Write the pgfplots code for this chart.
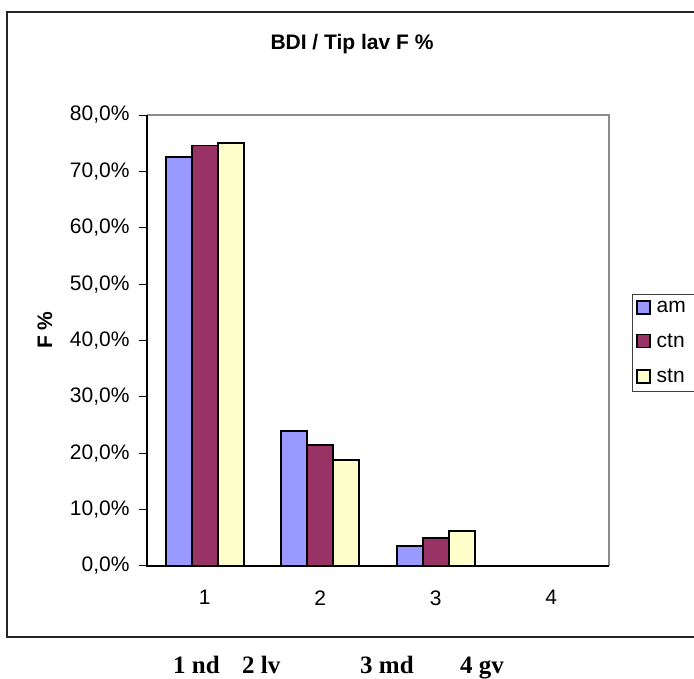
\documentclass[border=0pt]{standalone}
\usepackage{pgfplots}
\pgfplotsset{compat=1.18}
\usepackage{fontspec}
\setmainfont{Liberation Sans}
\newfontfamily\notefont{Liberation Serif}
\definecolor{amc}{HTML}{9999FF}
\definecolor{ctnc}{HTML}{993366}
\definecolor{stnc}{HTML}{FFFFCC}
\newcommand\chartfont{\fontsize{21}{25}\selectfont}
\begin{document}
\begin{tikzpicture}[x=1pt,y=1pt,font=\chartfont]
\useasboundingbox (0,0) rectangle (694,678);
% chart frame (right side runs off the page)
\draw[black!85, line width=1.5pt] (700,666) -- (7,666) -- (7,41) -- (700,41);
% title and axis label
\node[font=\chartfont\bfseries] at (352,634) {BDI / Tip lav F \%};
\node[font=\chartfont\bfseries, rotate=90] at (45,348) {F \%};
\begin{axis}[
  at={(147pt,112pt)}, anchor=south west,
  scale only axis, width=462pt, height=451pt,
  clip=false,
  xmin=0.5, xmax=4.5, ymin=0, ymax=80,
  axis line style={draw=none},
  ybar=0pt, bar width=26pt,
  xtick={1,2,3,4}, xticklabels={1,2,3,4},
  minor xtick={0.5,1.5,2.5,3.5,4.5},
  ytick={0,10,...,80},
  tick align=outside, tick pos=left,
  major tick length=8pt, minor tick length=8pt,
  xtick style={draw=none},
  minor x tick style={black, line width=1pt},
  ytick style={black, line width=1pt},
  /pgf/number format/assume math mode=true,
  yticklabel={\pgfmathprintnumber[fixed,fixed zerofill,precision=1,use comma]{\tick}\%},
  ticklabel style={font=\chartfont},
  yticklabel style={xshift=-6pt},
  xticklabel style={yshift=-13pt},
  legend style={at={(1.0498,0.604)}, anchor=north west,
    draw=black!75, line width=0.8pt, font=\chartfont,
    row sep=16pt, inner xsep=4pt, inner ysep=5pt,
    /tikz/every odd column/.append style={column sep=4pt},
    nodes={inner xsep=2pt}},
  legend cell align=left,
  legend image code/.code={\draw[#1, line width=1.3pt] (0pt,-6.5pt) rectangle (13pt,6.5pt);},
]
\addplot[fill=amc, draw=black, line width=1.6pt] coordinates {(1,72.6) (2,23.9) (3,3.5) (4,0)};
\addplot[fill=ctnc, draw=black, line width=1.6pt] coordinates {(1,74.6) (2,21.5) (3,5.0) (4,0)};
\addplot[fill=stnc, draw=black, line width=1.6pt] coordinates {(1,75.0) (2,18.8) (3,6.2) (4,0)};
\legend{am\hspace*{30pt},ctn,stn}
% plot area border: gray top and right, black axes on left and bottom
\draw[black!45, line width=1.5pt] (rel axis cs:0,1) -- (rel axis cs:1,1) -- (rel axis cs:1,0);
\draw[black, line width=1.5pt] (rel axis cs:0,1) -- (rel axis cs:0,0) -- (rel axis cs:1,0);
\end{axis}
% category key below the chart
\begin{scope}[font=\notefont\bfseries\fontsize{25}{28}\selectfont]
\node[anchor=base west, inner sep=0] at (173,5) {1 nd};
\node[anchor=base west, inner sep=0] at (242,5) {2 lv};
\node[anchor=base west, inner sep=0] at (360,5) {3 md};
\node[anchor=base west, inner sep=0] at (460,5) {4 gv};
\end{scope}
\end{tikzpicture}
\end{document}
